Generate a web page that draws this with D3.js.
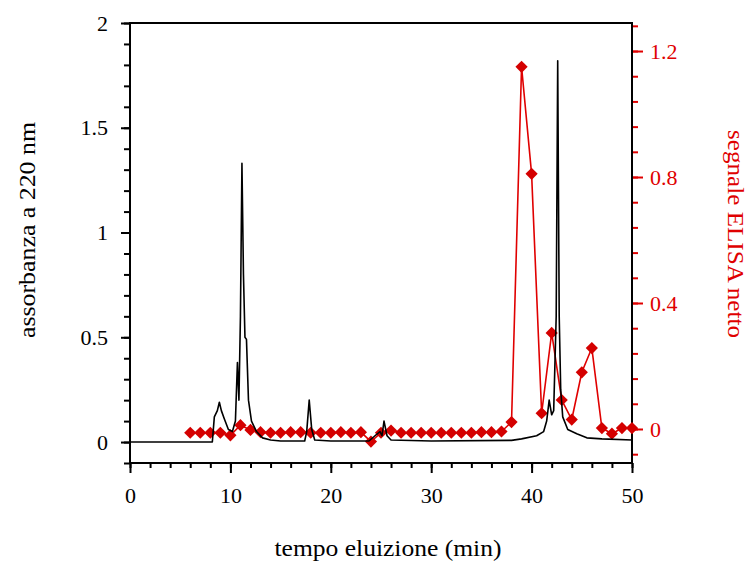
<!DOCTYPE html>
<html>
<head>
<meta charset="utf-8">
<script src="https://cdn.jsdelivr.net/npm/d3@7"></script>
<style>
  body { margin: 0; background: #fff; }
  text { font-family: "Liberation Serif", "Times New Roman", serif; }
</style>
</head>
<body>
<div id="wrapper"></div>
<script>
// absorbance trace (black) - time in min, absorbance at 220 nm
const traceTime = [0, 8.2, 8.4, 8.7, 8.9, 9.1, 9.4, 9.8, 10.2, 10.5, 10.7, 10.85, 11.0, 11.15, 11.3, 11.45, 11.6, 11.8, 12.1, 12.6, 13.2, 14, 15,
  17.4, 17.6, 17.85, 18.1, 18.4, 20, 23.8, 24.4, 24.9, 25.1, 25.3, 25.6, 26, 30, 38, 39, 40.5, 41.2, 41.5, 41.75, 42.0, 42.2,
  42.45, 42.6, 42.75, 42.9, 43.1, 43.6, 44.5, 45.5, 47, 50];
const traceAbs = [0, 0, 0.12, 0.15, 0.19, 0.15, 0.11, 0.06, 0.05, 0.1, 0.38, 0.2, 0.6, 1.33, 0.8, 0.5, 0.49, 0.2, 0.1, 0.05, 0.02, 0.01, 0.005,
  0.005, 0.05, 0.2, 0.06, 0.01, 0.005, 0.005, 0.03, 0.05, 0.03, 0.1, 0.03, 0.01, 0.005, 0.008, 0.015, 0.03, 0.05, 0.1, 0.2, 0.13, 0.15,
  0.6, 1.82, 0.6, 0.25, 0.12, 0.06, 0.04, 0.02, 0.015, 0.01];

// ELISA fractions (red) - one per minute
const elisaTime = d3.range(6, 51);
const elisaSignal = [-0.012, -0.012, -0.012, -0.012, -0.02, 0.012, -0.003, -0.01, -0.012, -0.012,
  -0.01, -0.01, -0.012, -0.012, -0.012, -0.01, -0.012, -0.01, -0.04, -0.012,
  -0.005, -0.012, -0.012, -0.012, -0.012, -0.012, -0.012, -0.012, -0.012, -0.01,
  -0.01, -0.008, 0.022, 1.15, 0.81, 0.05, 0.305, 0.092, 0.03, 0.18,
  0.257, 0.003, -0.015, 0.003, 0.003];

// tick labels
const xTicks = [0, 10, 20, 30, 40, 50];
const yLeftTicks = [0, 0.5, 1, 1.5, 2];
const yRightTicks = [0, 0.4, 0.8, 1.2];

const red = "#e00000";

let dimensions = {
  width: 753,
  height: 565,
  margin: { top: 23, right: 121, bottom: 102, left: 130 },
};
dimensions.boundedWidth = dimensions.width - dimensions.margin.left - dimensions.margin.right;
dimensions.boundedHeight = dimensions.height - dimensions.margin.top - dimensions.margin.bottom;

const svg = d3.select("#wrapper")
  .append("svg")
    .attr("width", dimensions.width)
    .attr("height", dimensions.height);

const bounds = svg.append("g")
  .attr("transform", `translate(${dimensions.margin.left},${dimensions.margin.top})`);

// scales
const xScale = d3.scaleLinear()
  .domain([0, 50])
  .range([0, dimensions.boundedWidth]);

const yScale = d3.scaleLinear()
  .domain([-0.1, 2])
  .range([dimensions.boundedHeight, 0]);

const y2Scale = d3.scaleLinear()
  .domain([-0.108, 1.289])
  .range([dimensions.boundedHeight, 0]);

// axes: minor ticks first, then labelled major ticks
const styleAxis = (g, color) => {
  g.select(".domain").remove();
  g.selectAll("line").attr("stroke", color).attr("stroke-width", 2);
  g.selectAll("text").attr("fill", color).style("font-size", "22px");
};

bounds.append("g")
  .call(d3.axisLeft(yScale).tickValues(d3.range(-1, 21).map(i => i / 10)).tickSize(6).tickFormat(""))
  .call(g => styleAxis(g, "#000"));
bounds.append("g")
  .call(d3.axisLeft(yScale).tickValues(yLeftTicks).tickSize(9).tickPadding(13).tickFormat(d3.format("")))
  .call(g => styleAxis(g, "#000"));

bounds.append("g")
  .attr("transform", `translate(0,${dimensions.boundedHeight})`)
  .call(d3.axisBottom(xScale).tickValues(d3.range(0, 51, 2)).tickSize(5).tickFormat(""))
  .call(g => styleAxis(g, "#000"));
bounds.append("g")
  .attr("transform", `translate(0,${dimensions.boundedHeight})`)
  .call(d3.axisBottom(xScale).tickValues(xTicks).tickSize(10).tickPadding(14))
  .call(g => styleAxis(g, "#000"));

bounds.append("g")
  .attr("transform", `translate(${dimensions.boundedWidth},0)`)
  .call(d3.axisRight(y2Scale).tickValues(d3.range(-1, 17).map(i => i * 0.08)).tickSize(6).tickFormat(""))
  .call(g => styleAxis(g, red));
bounds.append("g")
  .attr("transform", `translate(${dimensions.boundedWidth},0)`)
  .call(d3.axisRight(y2Scale).tickValues(yRightTicks).tickSize(11).tickPadding(7).tickFormat(d3.format("")))
  .call(g => styleAxis(g, red));

// frame
bounds.append("rect")
  .attr("width", dimensions.boundedWidth)
  .attr("height", dimensions.boundedHeight)
  .attr("fill", "none")
  .attr("stroke", "#000")
  .attr("stroke-width", 2);

// ELISA line + diamonds
const elisaLine = d3.line()
  .x((d, i) => xScale(elisaTime[i]))
  .y(d => y2Scale(d));

bounds.append("path")
  .attr("d", elisaLine(elisaSignal))
  .attr("fill", "none")
  .attr("stroke", red)
  .attr("stroke-width", 1.6);

const diamond = d3.symbol().type(d3.symbolDiamond2).size(95);
bounds.selectAll(".pt")
  .data(elisaSignal)
  .join("path")
    .attr("class", "pt")
    .attr("d", diamond)
    .attr("transform", (d, i) => `translate(${xScale(elisaTime[i])},${y2Scale(d)})`)
    .attr("fill", "#d40000");

// absorbance trace
const traceLine = d3.line()
  .x((d, i) => xScale(traceTime[i]))
  .y(d => yScale(d));

bounds.append("path")
  .attr("d", traceLine(traceAbs))
  .attr("fill", "none")
  .attr("stroke", "#000")
  .attr("stroke-width", 1.6)
  .attr("stroke-linejoin", "round");

// axis titles
svg.append("text")
  .attr("transform", "translate(35,230) rotate(-90)")
  .attr("text-anchor", "middle")
  .attr("textLength", 216)
  .attr("lengthAdjust", "spacingAndGlyphs")
  .style("font-size", "24px")
  .text("assorbanza a 220 nm");

svg.append("text")
  .attr("transform", "translate(728,234) rotate(90)")
  .attr("text-anchor", "middle")
  .attr("textLength", 208)
  .attr("lengthAdjust", "spacingAndGlyphs")
  .attr("fill", red)
  .style("font-size", "24px")
  .text("segnale ELISA netto");

svg.append("text")
  .attr("x", 388)
  .attr("y", 556)
  .attr("text-anchor", "middle")
  .attr("textLength", 227)
  .attr("lengthAdjust", "spacingAndGlyphs")
  .style("font-size", "24px")
  .text("tempo eluizione (min)");
</script>
</body>
</html>
